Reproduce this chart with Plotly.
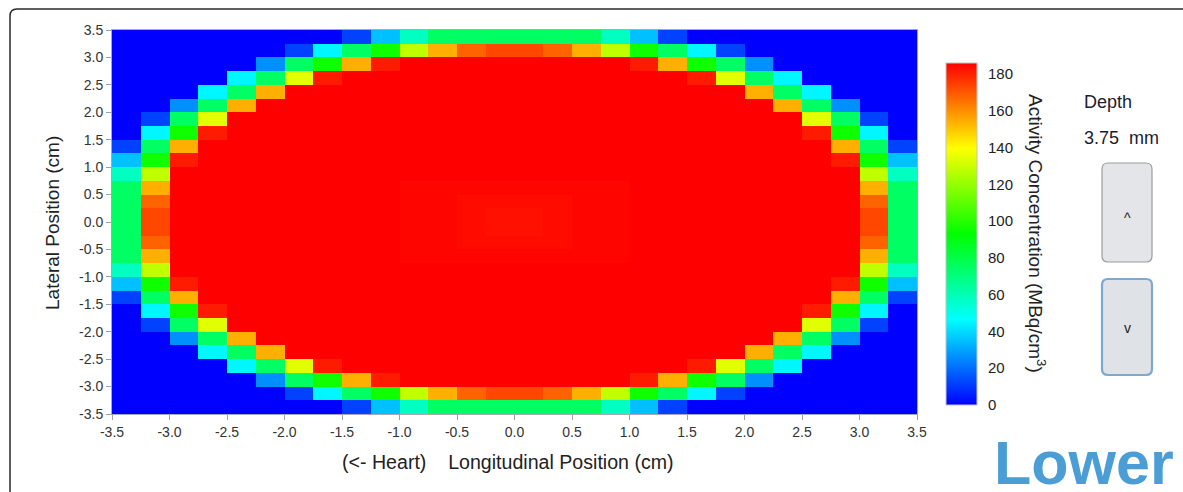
import plotly.graph_objects as go

# Activity map at one depth slice: 28 x 28 cells of 0.25 cm, rows listed from
# the top (lateral +3.5 cm) to the bottom (-3.5 cm). Each character is a level
# code whose concentration (MBq/cm^3) is given in LEVELS.
LEVELS = {
    "B": 0, "b": 12, "m": 26, "s": 35, "c": 45, "a": 58, "g": 75, "G": 96,
    "y": 128, "Y": 134, "o": 154, "O": 168, "x": 173, "h": 181,
    "3": 183, "2": 184, "1": 185, "R": 186,
}
ROWS = [
    "BBBBBBBBbsaggggggasbBBBBBBBB",
    "BBBBBBbcgGyoOxxOoyGgcbBBBBBB",
    "BBBBBmgGohRRRRRRRRhoGgmBBBBB",
    "BBBBcgYhRRRRRRRRRRRRhYgcBBBB",
    "BBBcgoRRRRRRRRRRRRRRRRogcBBB",
    "BBmgoRRRRRRRRRRRRRRRRRRogmBB",
    "BbgYRRRRRRRRRRRRRRRRRRRRYgbB",
    "BcGhRRRRRRRRRRRRRRRRRRRRhGcB",
    "bgoRRRRRRRRRRRRRRRRRRRRRRogb",
    "sGhRRRRRRRRRRRRRRRRRRRRRRhGs",
    "ayRRRRRRRRRRRRRRRRRRRRRRRRya",
    "goRRRRRRRR11111111RRRRRRRRog",
    "gORRRRRRRR11222211RRRRRRRROg",
    "gxRRRRRRRR11233211RRRRRRRRxg",
    "gxRRRRRRRR11233211RRRRRRRRxg",
    "gORRRRRRRR11222211RRRRRRRROg",
    "goRRRRRRRR11111111RRRRRRRRog",
    "ayRRRRRRRRRRRRRRRRRRRRRRRRya",
    "sGhRRRRRRRRRRRRRRRRRRRRRRhGs",
    "bgoRRRRRRRRRRRRRRRRRRRRRRogb",
    "BcGhRRRRRRRRRRRRRRRRRRRRhGcB",
    "BbgYRRRRRRRRRRRRRRRRRRRRYgbB",
    "BBmgoRRRRRRRRRRRRRRRRRRogmBB",
    "BBBcgoRRRRRRRRRRRRRRRRogcBBB",
    "BBBBcgYhRRRRRRRRRRRRhYgcBBBB",
    "BBBBBmgGohRRRRRRRRhoGgmBBBBB",
    "BBBBBBbcgGyoOxxOoyGgcbBBBBBB",
    "BBBBBBBBbsaggggggasbBBBBBBBB",
]
assert len(ROWS) == 28 and all(len(r) == 28 for r in ROWS)

AXIS_TICKS = [-3.5, -3.0, -2.5, -2.0, -1.5, -1.0, -0.5, 0.0, 0.5, 1.0, 1.5, 2.0, 2.5, 3.0, 3.5]
AXIS_TICK_TEXT = ["-3.5", "-3.0", "-2.5", "-2.0", "-1.5", "-1.0", "-0.5", "0.0",
                  "0.5", "1.0", "1.5", "2.0", "2.5", "3.0", "3.5"]
CBAR_TICKS = [0, 20, 40, 60, 80, 100, 120, 140, 160, 180]
CBAR_MAX = 186
DEPTH_MM = "3.75"

# grid rows bottom -> top for the heatmap
z = [[LEVELS[ch] for ch in row] for row in reversed(ROWS)]

W, H = 1183, 492
ML, MR, MT, MB = 112, 266, 30, 78
PW, PH = W - ML - MR, H - MT - MB


def px(x):
    return (x - ML) / PW


def py(y):
    return (H - MB - y) / PH


FONT = "Liberation Sans, Arial, sans-serif"

rainbow = [[0.0, "#0000ff"], [0.25, "#00ffff"], [0.5, "#00ff00"],
           [0.75, "#ffff00"], [1.0, "#ff0000"]]

fig = go.Figure(go.Heatmap(
    z=z, x0=-3.375, dx=0.25, y0=-3.375, dy=0.25,
    zmin=0, zmax=CBAR_MAX, colorscale=rainbow, hoverinfo="skip",
    colorbar=dict(
        x=px(946), xanchor="left", xpad=0, xref="paper",
        y=py(234), yanchor="middle", ypad=0,
        thickness=31, thicknessmode="pixels", len=342, lenmode="pixels",
        outlinewidth=1, outlinecolor="#c4c4c4",
        tickvals=CBAR_TICKS, ticks="outside", ticklen=8,
        tickcolor="rgba(0,0,0,0)",
        tickfont=dict(family=FONT, size=15, color="#222"),
    ),
))

axis_common = dict(
    range=[-3.5, 3.5], tickvals=AXIS_TICKS, ticktext=AXIS_TICK_TEXT,
    ticks="outside", ticklen=5, tickcolor="#a0a0a0", tickwidth=1,
    showline=True, linecolor="#a8a8b8", linewidth=1, mirror=True,
    showgrid=False, zeroline=False,
    tickfont=dict(family=FONT, size=14, color="#333"),
)
fig.update_xaxes(**axis_common)
fig.update_yaxes(**axis_common)

ann = []
ann.append(dict(text="(&lt;- Heart)    Longitudinal Position (cm)",
                x=px(508), y=py(462), xref="paper", yref="paper",
                xanchor="center", yanchor="middle", showarrow=False,
                font=dict(family=FONT, size=19.6, color="#222")))
ann.append(dict(text="Lateral Position (cm)", textangle=-90,
                x=px(52), y=py(223), xref="paper", yref="paper",
                xanchor="center", yanchor="middle", showarrow=False,
                font=dict(family=FONT, size=19, color="#222")))
ann.append(dict(text="Activity Concentration (MBq/cm<sup>3</sup>)", textangle=90,
                x=px(1037), y=py(233), xref="paper", yref="paper",
                xanchor="center", yanchor="middle", showarrow=False,
                font=dict(family=FONT, size=19, color="#222")))
ann.append(dict(text="Depth", x=px(1082), y=py(102), xref="paper", yref="paper",
                xanchor="left", yanchor="middle", showarrow=False,
                font=dict(family=FONT, size=18, color="#1c1c30")))
ann.append(dict(text=DEPTH_MM + "  mm", x=px(1082), y=py(138), xref="paper", yref="paper",
                xanchor="left", yanchor="middle", showarrow=False,
                font=dict(family=FONT, size=18, color="#1c1c30")))
ann.append(dict(text="^", x=px(1127), y=py(218), xref="paper", yref="paper",
                xanchor="center", yanchor="middle", showarrow=False,
                font=dict(family=FONT, size=14, color="#222")))
ann.append(dict(text="v", x=px(1127), y=py(328), xref="paper", yref="paper",
                xanchor="center", yanchor="middle", showarrow=False,
                font=dict(family=FONT, size=14, color="#222")))
ann.append(dict(text="<b>Lower</b>", x=px(992), y=py(463), xref="paper", yref="paper",
                xanchor="left", yanchor="middle", showarrow=False,
                font=dict(family=FONT, size=61, color="#4b9dd5")))


def rounded_rect(x0, y0, x1, y1, r):
    X0, X1 = px(x0), px(x1)
    Y0, Y1 = py(y0), py(y1)
    rx, ry = r / PW, r / PH
    return (f"M {X0 + rx},{Y0} L {X1 - rx},{Y0} Q {X1},{Y0} {X1},{Y0 - ry} "
            f"L {X1},{Y1 + ry} Q {X1},{Y1} {X1 - rx},{Y1} L {X0 + rx},{Y1} "
            f"Q {X0},{Y1} {X0},{Y1 + ry} L {X0},{Y0 - ry} Q {X0},{Y0} {X0 + rx},{Y0} Z")


shapes = []
# outer panel frame (continues past the right and bottom edges)
r = 7
frame = (f"M {px(10)},{py(H + 10)} L {px(10)},{py(9 + r)} "
         f"Q {px(10)},{py(9)} {px(10 + r)},{py(9)} L {px(W + 10)},{py(9)}")
shapes.append(dict(type="path", path=frame, xref="paper", yref="paper",
                   line=dict(color="#2a2a2a", width=1.5)))
# depth step buttons
shapes.append(dict(type="path", path=rounded_rect(1102, 163, 1152, 262, 6),
                   xref="paper", yref="paper", fillcolor="#e3e5e9",
                   line=dict(color="#9c9c9c", width=1.2)))
shapes.append(dict(type="path", path=rounded_rect(1102, 279, 1152, 375, 6),
                   xref="paper", yref="paper", fillcolor="#dfe2e7",
                   line=dict(color="#7fa8cf", width=2.2)))

fig.update_layout(
    width=W, height=H, margin=dict(l=ML, r=MR, t=MT, b=MB, autoexpand=False),
    paper_bgcolor="white", plot_bgcolor="white",
    font=dict(family=FONT, color="#222"),
    annotations=ann, shapes=shapes, showlegend=False,
)

fig.write_html("out.html")
